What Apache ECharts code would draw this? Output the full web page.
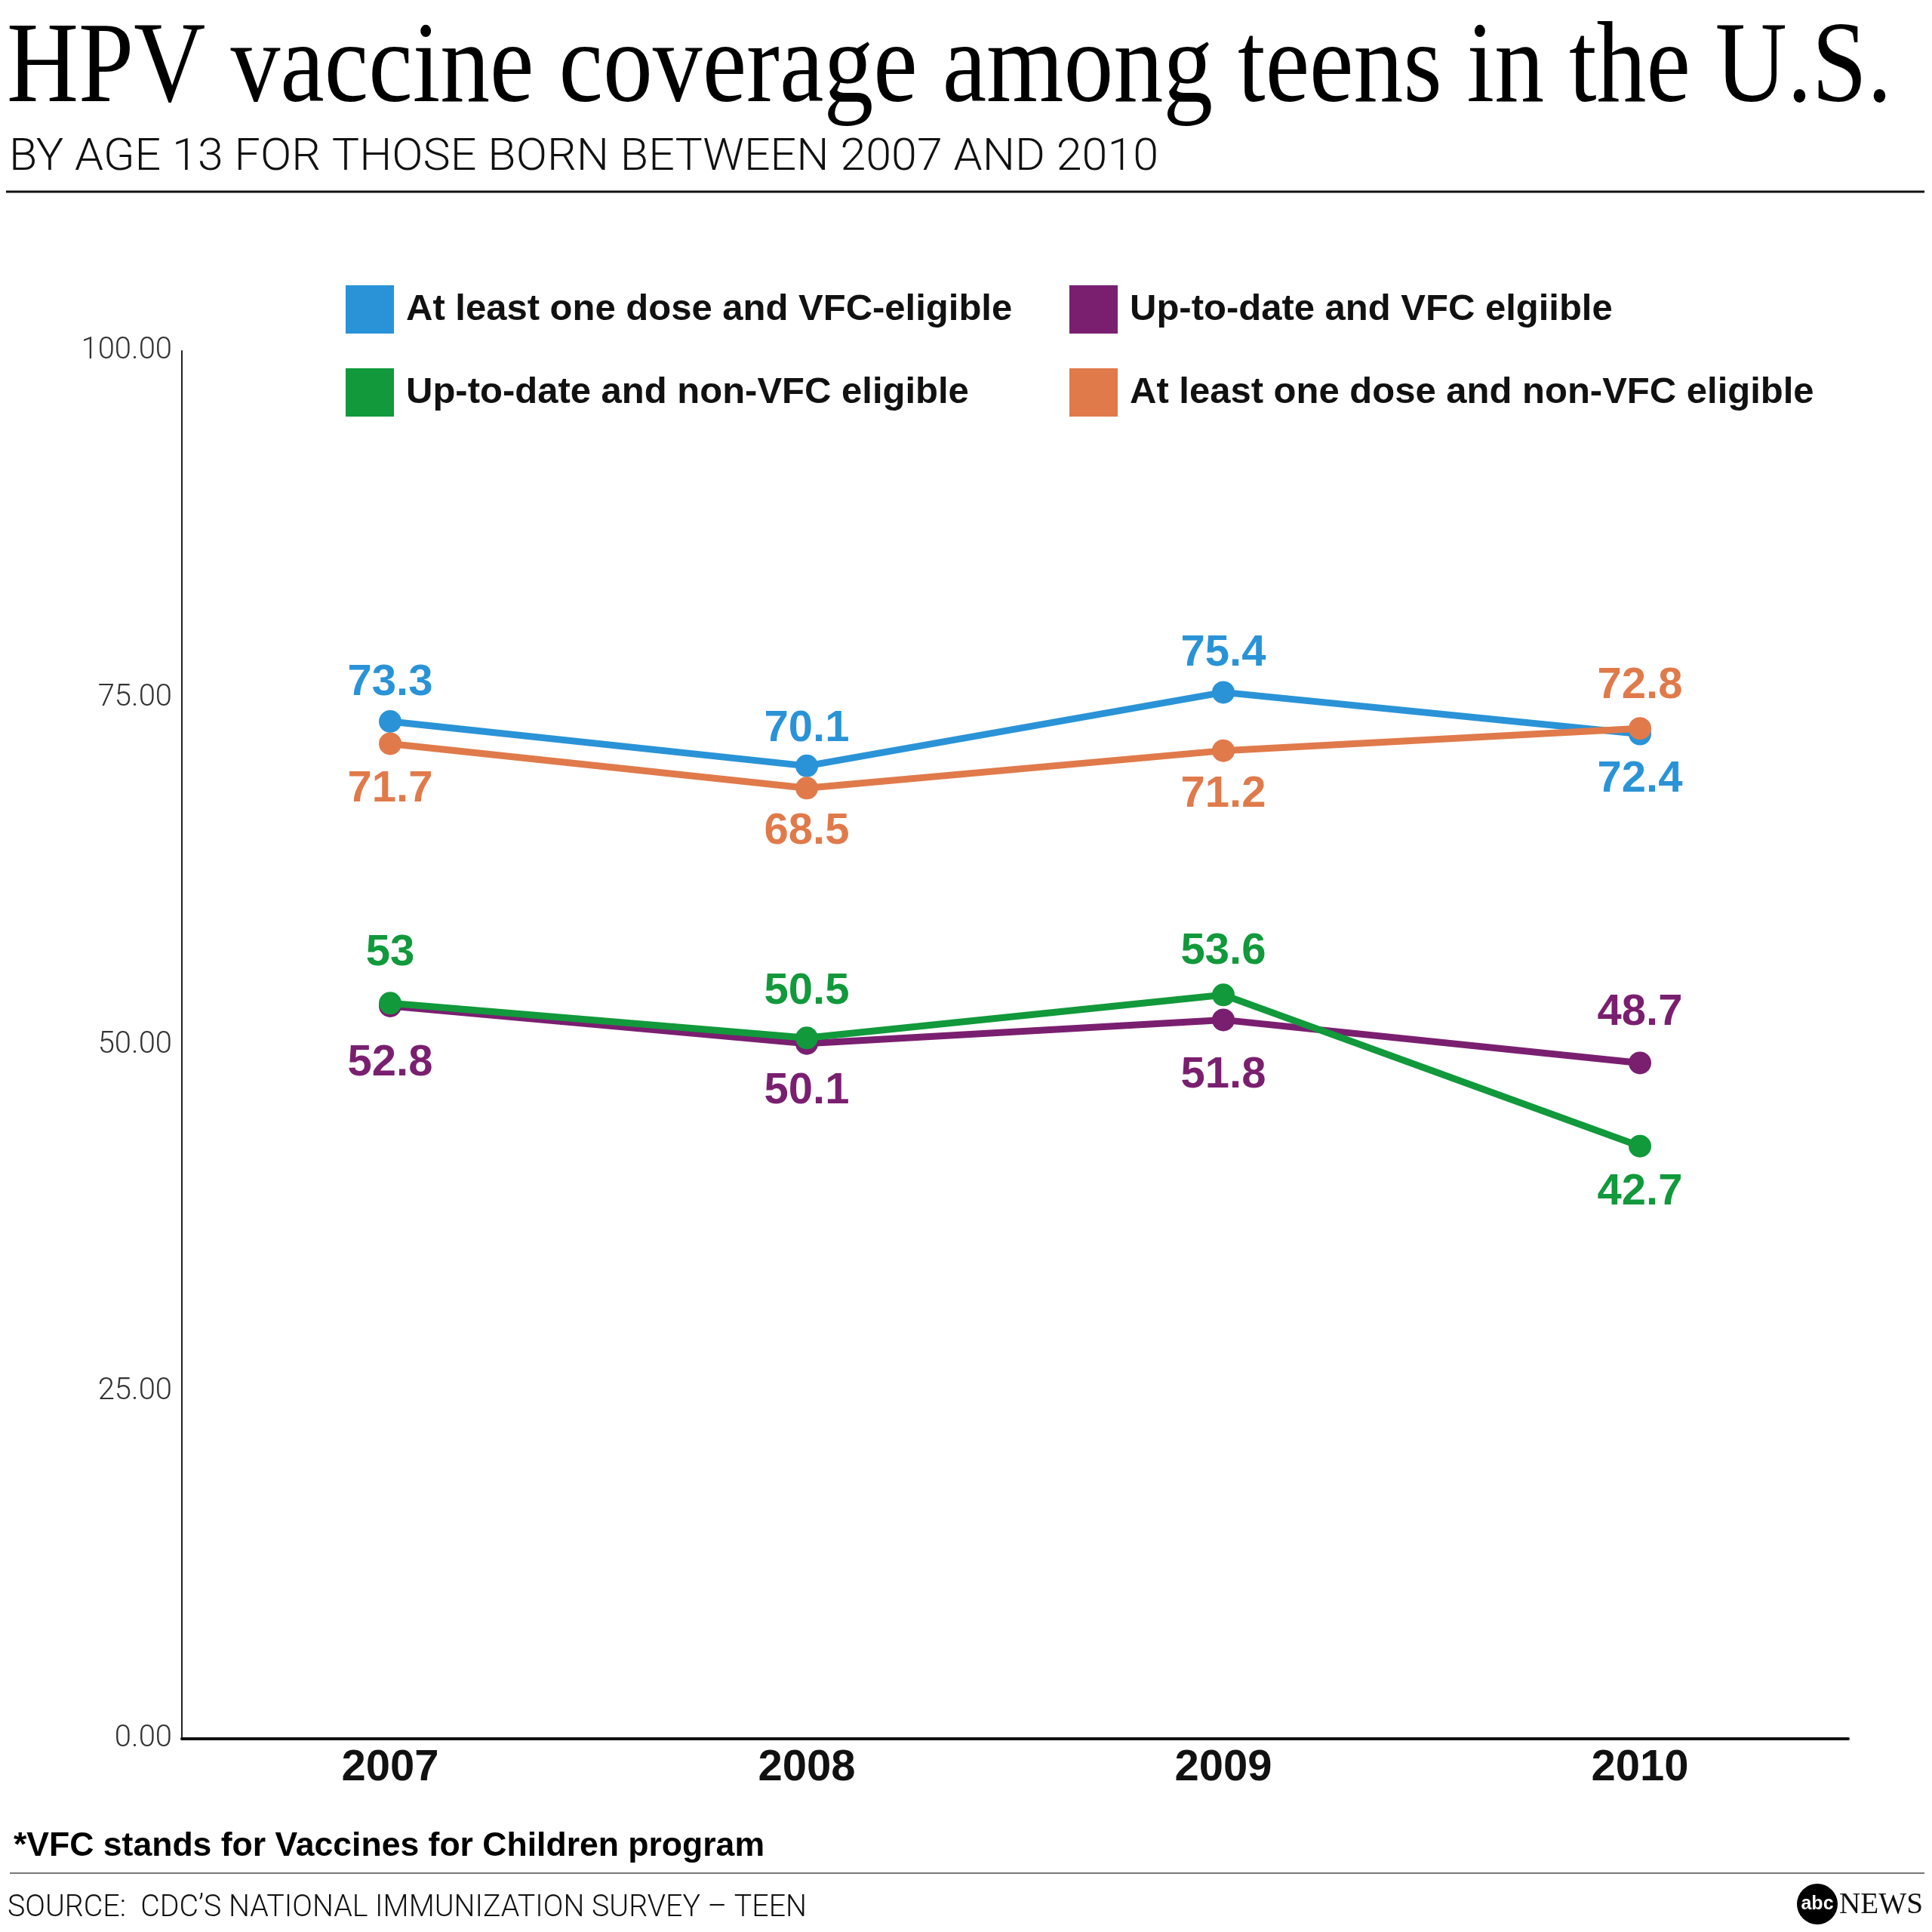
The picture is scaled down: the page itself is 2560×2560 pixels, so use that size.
<!DOCTYPE html>
<html>
<head>
<meta charset="utf-8">
<script src="https://cdn.jsdelivr.net/npm/echarts@6/dist/echarts.min.js"></script>
<style>html,body{margin:0;padding:0;background:#fff}#c{width:2560px;height:2560px}</style>
</head>
<body>
<div id="c"></div>
<script>
// ---- data ----
var years = ['2007', '2008', '2009', '2010'];
var oneDoseVFC = [73.3, 70.1, 75.4, 72.4];
var upToDateVFC = [52.8, 50.1, 51.8, 48.7];
var upToDateNonVFC = [53, 50.5, 53.6, 42.7];
var oneDoseNonVFC = [71.7, 68.5, 71.2, 72.8];
var seriesNames = [
  'At least one dose and VFC-eligible',
  'Up-to-date and VFC elgiible',
  'Up-to-date and non-VFC eligible',
  'At least one dose and non-VFC eligible'
];
var yTicks = [0, 25, 50, 75, 100];

// ---- styles ----
var colors = ['#2a93d7', '#7a1f70', '#11993b', '#e07a4b'];
var labelPlacement = [
  [['top', 7], ['top', 5], ['top', 7], ['bottom', 16]],
  [['bottom', 32], ['bottom', 19], ['bottom', 30], ['top', 22]],
  [['top', 22], ['top', 17], ['top', 13], ['bottom', 17]],
  [['bottom', 17], ['bottom', 14], ['bottom', 14], ['top', 12]]
];
var values = [oneDoseVFC, upToDateVFC, upToDateNonVFC, oneDoseNonVFC];

var ctx = document.createElement('canvas').getContext('2d');
function fitScale(text, font, target) {
  ctx.font = font;
  return target / ctx.measureText(text).width;
}

var chart = echarts.init(document.getElementById('c'), null, {renderer: 'canvas'});

var series = values.map(function (vals, si) {
  return {
    name: seriesNames[si],
    type: 'line',
    data: vals.map(function (v, i) {
      return {value: v, label: {position: labelPlacement[si][i][0], distance: labelPlacement[si][i][1]}};
    }),
    symbol: 'circle',
    symbolSize: 30,
    lineStyle: {width: 9, color: colors[si]},
    itemStyle: {color: colors[si], borderWidth: 0},
    label: {
      show: true,
      color: colors[si],
      fontFamily: 'Liberation Sans',
      fontWeight: 'bold',
      fontSize: 58,
      formatter: function (p) { return String(p.value); }
    },
    emphasis: {disabled: true},
    z: 2 + si
  };
});

var legendPos = [[453, 373], [1412, 373], [453, 483], [1412, 483]];
var legends = seriesNames.map(function (n, i) {
  return {
    data: [n],
    left: legendPos[i][0],
    top: legendPos[i][1],
    icon: 'rect',
    itemWidth: 64,
    itemHeight: 64,
    itemStyle: {borderWidth: 0},
    selectedMode: false,
    textStyle: {
      fontFamily: 'Liberation Sans',
      fontWeight: 'bold',
      fontSize: 49,
      color: '#111',
      padding: [0, 0, 0, 11]
    }
  };
});

var titleFont = '152px "Liberation Serif"';
var titleText = 'HPV vaccine coverage among teens in the U.S.';
var subFont = '300 60px Roboto';
var subText = 'BY AGE 13 FOR THOSE BORN BETWEEN 2007 AND 2010';
var noteFont = 'bold 44px "Liberation Sans"';
var noteText = '*VFC stands for Vaccines for Children program';
var srcFont = '300 41px Roboto';
var srcText = 'SOURCE:  CDC\u2019S NATIONAL IMMUNIZATION SURVEY \u2013 TEEN';
var newsFont = '40px "Liberation Serif"';

var option = {
  backgroundColor: '#ffffff',
  animation: false,
  color: colors,
  legend: legends,
  grid: {left: 241, right: 111, top: 465, bottom: 256, containLabel: false, outerBoundsMode: 'none'},
  xAxis: {
    type: 'category',
    data: years,
    boundaryGap: true,
    axisLine: {show: true, lineStyle: {color: '#111', width: 4}},
    axisTick: {show: false},
    splitLine: {show: false},
    axisLabel: {margin: 10, fontFamily: 'Liberation Sans', fontWeight: 'bold', fontSize: 58, color: '#111'}
  },
  yAxis: {
    type: 'value',
    min: yTicks[0],
    max: yTicks[yTicks.length - 1],
    interval: yTicks[1] - yTicks[0],
    axisLine: {show: true, lineStyle: {color: '#222', width: 2}},
    axisTick: {show: false},
    splitLine: {show: false},
    axisLabel: {
      margin: 13, fontFamily: 'Roboto', fontWeight: 300, fontSize: 40, color: '#333',
      formatter: function (v) { return v.toFixed(2); }
    }
  },
  series: series,
  graphic: [
    {type: 'text', x: 9, y: 94, scaleX: fitScale(titleText, titleFont, 2498),
      style: {text: titleText, font: titleFont, fill: '#000', verticalAlign: 'middle', align: 'left'}},
    {type: 'text', x: 12, y: 210, scaleX: fitScale(subText, subFont, 1523),
      style: {text: subText, font: subFont, fill: '#111', verticalAlign: 'middle', align: 'left'}},
    {type: 'line', shape: {x1: 8, y1: 254, x2: 2550, y2: 254}, style: {stroke: '#111', lineWidth: 3}},
    {type: 'text', x: 18, y: 2447, scaleX: fitScale(noteText, noteFont, 995),
      style: {text: noteText, font: noteFont, fill: '#000', verticalAlign: 'middle', align: 'left'}},
    {type: 'line', shape: {x1: 13, y1: 2482, x2: 2550, y2: 2482}, style: {stroke: '#777', lineWidth: 2}},
    {type: 'text', x: 10, y: 2529, scaleX: fitScale(srcText, srcFont, 1059),
      style: {text: srcText, font: srcFont, fill: '#111', verticalAlign: 'middle', align: 'left'}},
    {type: 'circle', shape: {cx: 2408, cy: 2523, r: 27}, style: {fill: '#000'}},
    {type: 'text', x: 2408, y: 2523,
      style: {text: 'abc', font: 'bold 25px "Liberation Sans"', fill: '#fff', verticalAlign: 'middle', align: 'center'}},
    {type: 'text', x: 2437, y: 2524, scaleX: fitScale('NEWS', newsFont, 111),
      style: {text: 'NEWS', font: newsFont, fill: '#111', verticalAlign: 'middle', align: 'left'}}
  ]
};
chart.setOption(option);
</script>
</body>
</html>
